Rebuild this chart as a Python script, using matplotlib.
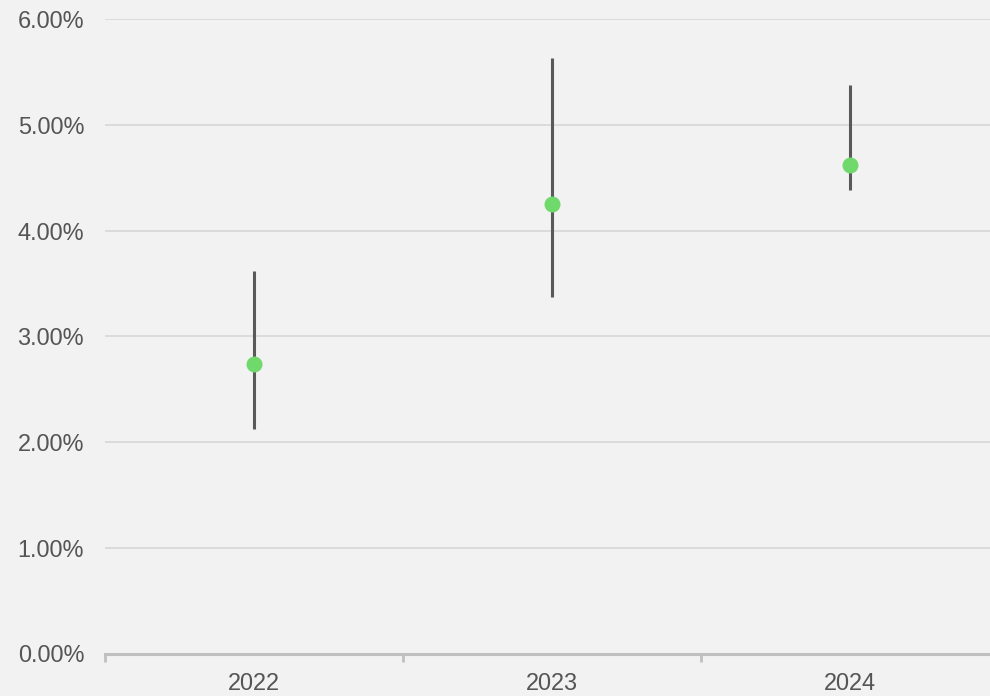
import numpy as np
import matplotlib.pyplot as plt
from matplotlib.ticker import FuncFormatter, FixedLocator

plt.rcParams['font.family'] = ['Liberation Sans', 'DejaVu Sans']

years = ['2022', '2023', '2024']
mid = [2.74, 4.25, 4.62]
low = [2.12, 3.37, 4.38]
high = [3.62, 5.63, 5.38]

bg = '#f2f2f2'
fig = plt.figure(figsize=(9.9, 6.96), dpi=100, facecolor=bg)
ax = fig.add_axes([105 / 990, (696 - 653.5) / 696, 1 - 105 / 990, (653.5 - 19) / 696])
ax.set_facecolor(bg)

x = np.arange(len(years))
ax.vlines(x, low, high, color='#595959', lw=2.2, zorder=3)
ax.plot(x, mid, 'o', color='#6fd96b', ms=11.5, mec='none', zorder=4)

ax.set_xlim(-0.5, 2.47)
ax.set_ylim(0, 6)
ax.set_yticks(np.arange(0, 7, 1))
ax.yaxis.set_major_formatter(FuncFormatter(lambda v, _: f'{v:.2f}%'))
ax.grid(axis='y', color='#d9d9d9', lw=1.3, zorder=0)
ax.set_axisbelow(True)

ax.set_xticks(x)
ax.set_xticklabels(years)
ax.xaxis.set_minor_locator(FixedLocator([-0.5, 0.5, 1.5, 2.5]))
ax.tick_params(axis='x', which='major', length=0, pad=13, labelsize=16.9, labelcolor='#555555')
ax.tick_params(axis='x', which='minor', length=6, width=2, color='#c0c0c0')
ax.tick_params(axis='y', length=0, pad=15, labelsize=16.9, labelcolor='#555555')

for s in ['top', 'right', 'left']:
    ax.spines[s].set_visible(False)
ax.spines['bottom'].set_color('#c0c0c0')
ax.spines['bottom'].set_linewidth(2.2)
ax.spines['bottom'].set_zorder(5)

fig.savefig('out.png', dpi=100, facecolor=bg)
